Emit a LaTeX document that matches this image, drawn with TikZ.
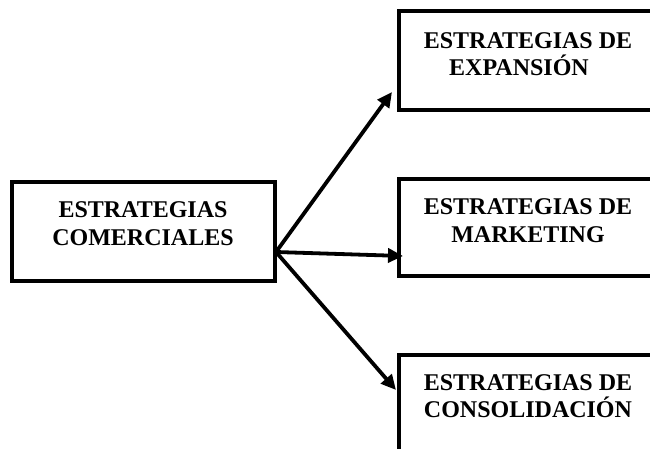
\documentclass[tikz,border=0pt]{standalone}
\usepackage{fontspec}
\setmainfont{Liberation Serif}
\usetikzlibrary{arrows.meta}
\begin{document}
\begin{tikzpicture}[x=1pt,y=-1pt,
  box/.style={draw, line width=4.5pt, inner sep=0pt, outer sep=0pt},
  arr/.style={line width=3.8pt, -{Triangle[length=15pt,width=14pt]}},
  txt/.style={anchor=base, inner sep=0pt, font=\bfseries\fontsize{24}{27}\selectfont}]
\useasboundingbox (0,0) rectangle (650,449);
\clip (0,0) rectangle (650,449);
% boxes
\node[box, minimum width=263pt, minimum height=99pt] (L) at (143.5,231.5) {};
\node[box, minimum width=260pt, minimum height=99pt] (E) at (529,60.5) {};
\node[box, minimum width=260pt, minimum height=97pt] (M) at (529,227.5) {};
\node[box, minimum width=260pt, minimum height=115pt] (C) at (529,412.5) {};
% texts
\node[txt] (L1) at (143,217) {ESTRATEGIAS};
\node[txt] (L2) at (143,245) {COMERCIALES};
\node[txt] (E1) at (528,49) {ESTRATEGIAS DE};
\node[txt] (E2) at (519,76) {EXPANSIÓN};
\node[txt] (M1) at (528,214) {ESTRATEGIAS DE};
\node[txt] (M2) at (528,242) {MARKETING};
\node[txt] (C1) at (528,390) {ESTRATEGIAS DE};
\node[txt] (C2) at (528,417) {CONSOLIDACIÓN};
% connectors
\coordinate (s) at (276,252);
\coordinate (tE) at (392,92);
\coordinate (tM) at (403,256);
\coordinate (tC) at (396,390);
\draw[arr] (s) -- (tE);
\draw[arr] (s) -- (tM);
\draw[arr] (s) -- (tC);
\end{tikzpicture}
\end{document}
